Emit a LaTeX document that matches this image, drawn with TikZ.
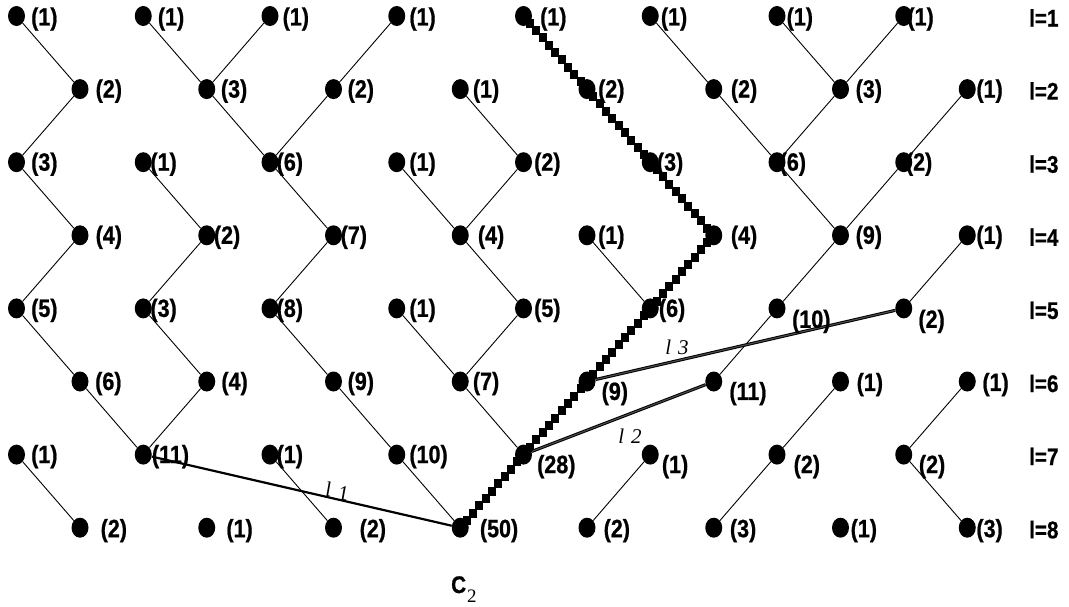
\documentclass[tikz,border=0pt]{standalone}
\usepackage{fontspec}
\newfontfamily\labfont{Liberation Sans}[FakeStretch=0.86,FakeBold=0.8]
\newfontfamily\serfont{Liberation Serif}
\usetikzlibrary{shapes.geometric,calc}
\pgfdeclarelayer{background}
\pgfsetlayers{background,main}
\tikzset{
  dot/.style={ellipse, fill=black, draw=none, inner sep=0pt, minimum width=17pt, minimum height=20pt},
  lab/.style={anchor=west, inner sep=0pt, font=\labfont\bfseries\fontsize{25}{25}\selectfont},
  rowlab/.style={anchor=base west, inner sep=0pt, font=\labfont\bfseries\fontsize{24}{24}\selectfont},
  llab/.style={inner sep=0pt, font=\serfont\itshape\fontsize{21}{21}\selectfont},
  edge/.style={line width=0.9pt, black},
  lone/.style={line width=2.2pt, black},
  ltwo/.style={line width=1pt, black, double=black!70, double distance=1.1pt},
}
\begin{document}
\begin{tikzpicture}[x=1pt,y=-1pt]
\useasboundingbox (0,0) rectangle (1069,606);
% dots and their values
\foreach \r/\xs/\data in {
  1/16.5/{1/14.5/3,1/14.5/3,1/12.5/3,1/12.5/3,1/16.5/3,1/10.5/3,1/9.5/3,1/3.5/3},
  2/80/{2/15.5/2,3/14/2,2/14/2,1/12.5/2,2/11/2,2/17/2,3/15/2,1/9/2},
  3/16.5/{3/14.5/2,1/7/2,6/6.5/2,1/12.5/2,2/10.5/2,3/6.5/2,6/2.5/2,2/2/2},
  4/80/{4/15.5/2,2/7/2,7/7/2,4/17.5/2,1/11/2,4/17/2,9/15/2,1/9/2},
  5/16.5/{5/14.5/2,3/7/2,8/6.5/2,1/12.5/2,5/10.5/2,6/8.5/2,10/15/13,2/14.5/13},
  6/80/{6/15/2,4/14.5/2,9/14/2,7/12.5/2,9/14.5/12,11/15.5/12,1/16/3,1/15/3},
  7/16.5/{1/14.5/2,11/8.5/2,1/6.5/2,10/12.5/2,28/13.5/12,1/11.5/12,2/16.5/12,2/15/12},
  8/80/{2/20.5/3,1/19.5/3,2/26/3,50/19.5/3,2/16.5/3,3/16/3,1/10/3,3/9/3}%
}{
  \foreach \v/\dx/\dy [count=\k] in \data {
    \node[dot] (n\r\k) at ({\xs+126.75*(\k-1)},{16+73.1*(\r-1)}) {};
    \node[lab] (t\r\k) at ({\xs+126.75*(\k-1)+\dx},{16+73.1*(\r-1)+\dy}) {(\v)};
  }
}
\begin{pgfonlayer}{background}
% thin edges
\foreach \a/\b in {11/21,21/31,31/41,41/51,51/61,61/72,
  12/22,13/22,22/33,14/23,23/33,
  32/42,42/52,52/62,62/72,
  33/43,43/53,53/63,63/74,74/84,
  24/35,34/44,35/44,44/55,54/64,55/64,64/75,
  71/81,73/83,
  16/26,26/37,17/27,18/27,27/37,37/47,28/38,38/47,47/57,57/66,
  45/56,48/58,56/65,
  67/77,77/86,76/85,68/78,78/88}
  \draw[edge] (n\a) -- (n\b);
% chain of squares
\foreach \a/\b in {15/25,25/36,36/46,46/56,56/65,65/75,75/84}
  \foreach \t in {0,0.1,...,1.01}
    \fill ($(n\a)!\t!(n\b)$) ++(-4,-4.5) rectangle ++(8,9);
% long connectors
\draw[lone] (n72) -- (n84);
\draw[ltwo] (n66) -- (n75);
\draw[ltwo] (n58) -- (n65);
\end{pgfonlayer}
% connector labels
\node[llab] (L1) at (337,491) {l\hspace{7pt}\raisebox{-4pt}{1}};
\node[llab] (L2) at (630,436) {l\hspace{7pt}2};
\node[llab] (L3) at (677,347) {l\hspace{7pt}3};
% level labels
\foreach \r in {1,...,8}
  \node[rowlab] (row\r) at (1029,{16+73.1*(\r-1)+10.5}) {l=\r};
% C2
\node[anchor=base west, inner sep=0pt] (c2) at (451,593)
  {{\labfont\bfseries\fontsize{24}{24}\selectfont C}\hspace{1pt}\raisebox{-9pt}{\serfont\fontsize{19}{19}\selectfont 2}};
\end{tikzpicture}
\end{document}
